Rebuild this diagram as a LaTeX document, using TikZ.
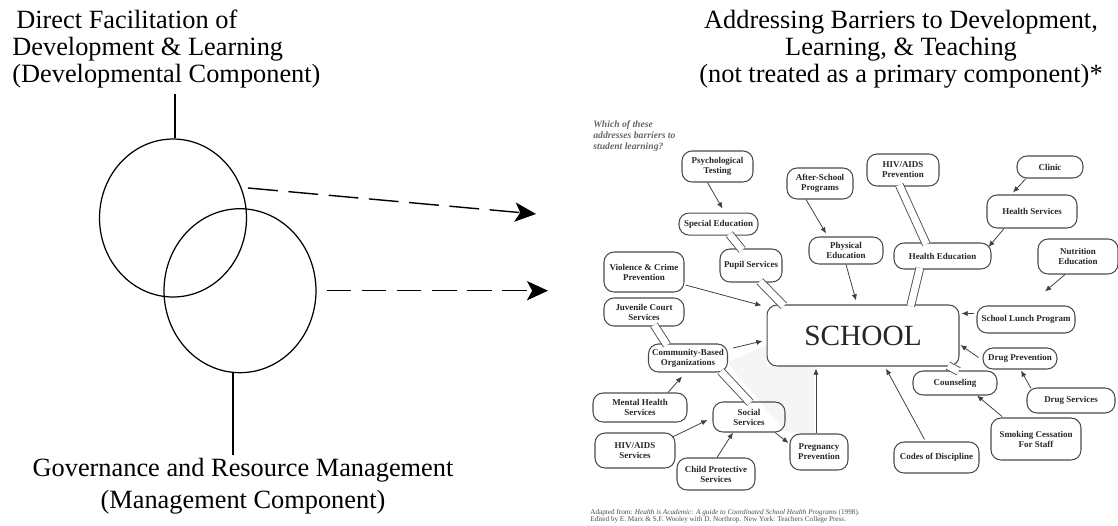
\documentclass[tikz,border=0pt]{standalone}
\usepackage{fontspec}
\setmainfont{Liberation Serif}
\usetikzlibrary{arrows.meta, shapes.geometric, positioning, calc}

\begin{document}
\begin{tikzpicture}[
    x=0.02cm, y=-0.02cm, % one unit = one pixel of the sketch, y going down
    % Styles
    heading/.style={inner sep=0pt, font=\fontsize{15}{15.5}\selectfont},
    ring/.style={ellipse, draw, line width=0.7pt, minimum width=2.94cm, minimum height=3.16cm, inner sep=0pt},
    leader/.style={line width=0.7pt},
    flow/.style={-{Stealth[length=12pt, width=11pt, inset=3pt]}, line width=0.8pt, dash pattern=on 14pt off 6pt},
    topic/.style={rectangle, draw=black!70, line width=0.6pt, rounded corners=0.2cm, inner sep=0pt, align=center, text=black!85, font=\fontsize{5.1}{5.7}\selectfont\bfseries},
    feed/.style={-{Latex[length=3.5pt, width=3pt]}, draw=black!75, line width=0.45pt},
    channel/.style={draw=black!70, line width=0.5pt, double=white, double distance=0.14cm, shorten <=-1pt, shorten >=-1pt}
]
\useasboundingbox (0,0) rectangle (1118,525);

% --- Left: the two components ---
\node[heading, anchor=north west, align=left] (devtitle) at (12,9.5) {\hspace*{0.08cm}Direct Facilitation of\\Development \& Learning\\(Developmental Component)};
\node[heading, anchor=north, align=center, font=\fontsize{15}{18}\selectfont] (mgmttitle) at (243,458) {Governance and Resource Management\\(Management Component)};

\node[ring] (ring1) at (173,218) {};
\node[ring, minimum width=3.04cm, minimum height=3.28cm] (ring2) at (240,290.7) {};

\coordinate (devtop) at (175,94);
\coordinate (mgmtbot) at (233,455);
\draw[leader] (devtop) -- (devtop |- ring1.north);
\draw[leader] (ring2.south -| mgmtbot) -- (mgmtbot);

% --- Dashed arrows over to the scanned map ---
\coordinate (tip1) at (536,214);
\coordinate (tip2) at (548,290.7);
\draw[flow, dash pattern=on 17pt off 6pt] ([shift={(1,-30)}]ring1.east) -- (tip1);
\draw[flow] ([shift={(10,0)}]ring2.east) -- (tip2);

% --- Right: title ---
\node[heading, anchor=north, align=center] (bartitle) at (901,9.5) {Addressing Barriers to Development,\\Learning, \& Teaching\\(not treated as a primary component)*};

\node[anchor=north west, inner sep=0pt, align=left, text=black!60, font=\fontsize{5.5}{6.4}\selectfont\bfseries\itshape] (question) at (593,120) {Which of these\\addresses barriers to\\student learning?};

% faint shading behind the lower left links
\fill[black!4] (728,362) -- (767,345) -- (767,366) -- (814,366) -- (814,434) -- (786,432) -- (760,402) -- (735,372) -- cycle;

% --- The SCHOOL map ---
\node[topic, minimum width=3.84cm, minimum height=1.22cm, font=\fontsize{16.7}{18}\selectfont] (school) at (863,335.5) {SCHOOL};

\node[topic, minimum width=1.42cm, minimum height=0.62cm] (psych) at (717.5,166.5) {Psychological\\Testing};
\node[topic, minimum width=1.58cm, minimum height=0.44cm, below=0.6cm of psych, xshift=0.02cm] (special) {Special Education};
\node[topic, minimum width=1.24cm, minimum height=0.66cm] (pupil) at (751,265.5) {Pupil Services};
\node[topic, minimum width=1.6cm, minimum height=0.8cm] (violence) at (644,272) {Violence \& Crime\\Prevention};
\node[topic, minimum width=1.6cm, minimum height=0.56cm] (juvenile) at (644,312) {Juvenile Court\\Services};
\node[topic, minimum width=1.58cm, minimum height=0.56cm] (community) at (688,358) {Community-Based\\Organizations};
\node[topic, minimum width=1.88cm, minimum height=0.58cm] (mental) at (640,407.5) {Mental Health\\Services};
\node[topic, minimum width=1.44cm, minimum height=0.6cm] (social) at (749,417) {Social\\Services};
\node[topic, minimum width=1.6cm, minimum height=0.7cm] (hivsrv) at (635,450.5) {HIV/AIDS\\Services};
\node[topic, minimum width=1.56cm, minimum height=0.64cm] (child) at (716,474) {Child Protective\\Services};
\node[topic, minimum width=1.16cm, minimum height=0.72cm] (pregnancy) at (819,452) {Pregnancy\\Prevention};

\node[topic, minimum width=1.32cm, minimum height=0.62cm] (after) at (820,183.5) {After-School\\Programs};
\node[topic, minimum width=1.48cm, minimum height=0.54cm] (physical) at (846,250.5) {Physical\\Education};
\node[topic, minimum width=1.44cm, minimum height=0.64cm] (hivprev) at (903,170) {HIV/AIDS\\Prevention};
\node[topic, minimum width=1.94cm, minimum height=0.52cm] (healthedu) at (942.5,256) {Health Education};
\node[topic, minimum width=1.32cm, minimum height=0.44cm] (clinic) at (1050,167) {Clinic};
\node[topic, minimum width=1.8cm, minimum height=0.66cm] (healthsrv) at (1032,211.5) {Health Services};
\node[topic, minimum width=1.6cm, minimum height=0.7cm] (nutrition) at (1078,256.5) {Nutrition\\Education};

\node[topic, minimum width=1.96cm, minimum height=0.54cm] (lunch) at (1026,319.5) {School Lunch Program};
\node[topic, minimum width=1.48cm, minimum height=0.42cm] (drugprev) at (1020,358.5) {Drug Prevention};
\node[topic, minimum width=1.68cm, minimum height=0.48cm] (counseling) at (955,383) {Counseling};
\node[topic, minimum width=1.76cm, minimum height=0.5cm] (drugsrv) at (1071,400.5) {Drug Services};
\node[topic, minimum width=1.8cm, minimum height=0.84cm] (smoking) at (1036,439) {Smoking Cessation\\For Staff};
\node[topic, minimum width=1.7cm, minimum height=0.62cm] (codes) at (936.5,457.5) {Codes of Discipline};

% --- Arrows into the map ---
\draw[feed] ([shift={(-10,0)}]psych.south) -- ([shift={(4,-4)}]special.north);
\draw[feed] ([shift={(-14,0)}]after.south) -- ([shift={(-20,-3)}]physical.north);
\draw[feed] (physical.south) -- ([shift={(-7,-4)}]school.north);
\draw[feed] ([shift={(-24,0)}]clinic.south) -- ([shift={(-19,-2)}]healthsrv.north);
\draw[feed] ([shift={(-28,0)}]healthsrv.south) -- ([shift={(-3,-9)}]healthedu.east);
\draw[feed] ([shift={(-13,0)}]nutrition.south) -- ([shift={(19,-14)}]lunch.north);
\draw[feed] ([shift={(-2,-6)}]lunch.west) -- ([shift={(2,-22)}]school.east);
\draw[feed] ([shift={(-4,-1)}]drugprev.west) -- ([shift={(1,9.5)}]school.east);
\draw[feed] ([shift={(-40,1)}]drugsrv.north) -- ([shift={(1,1)}]drugprev.south);
\draw[feed] ([shift={(-34,-1)}]smoking.north) -- ([shift={(22,0)}]counseling.south);
\draw[feed] ([shift={(-12,-2)}]codes.north) -- ([shift={(23,2)}]school.south);
\draw[feed] ([shift={(-3,0)}]pregnancy.north) -- ([shift={(-47,2)}]school.south);
\draw[feed] ([shift={(26,0)}]social.south) -- ([shift={(-1,-9)}]pregnancy.west);
\draw[feed] ([shift={(1,0)}]child.north) -- ([shift={(-16,0)}]social.south);
\draw[feed] ([shift={(-3,-13.5)}]hivsrv.east) -- ([shift={(-5,3)}]social.west);
\draw[feed] ([shift={(28,0)}]mental.north) -- ([shift={(-6,4)}]community.south);
\draw[feed] ([shift={(5,-10)}]community.east) -- ([shift={(-4,5.5)}]school.west);
\draw[feed] ([shift={(1,13)}]violence.east) -- ([shift={(-5,1)}]school.north west);

% --- Open channels between joined boxes ---
\draw[channel] ([shift={(12,0)}]special.south) -- ([shift={(-10,0)}]pupil.north);
\draw[channel] ([shift={(10,0)}]pupil.south) -- ([shift={(16,0)}]school.north west);
\draw[channel] ([shift={(11,0)}]juvenile.south) -- ([shift={(-22,0)}]community.north);
\draw[channel] ([shift={(34,0)}]community.south) -- (social.north);
\draw[channel] ([shift={(-3,0)}]hivprev.south) -- ([shift={(-17,0)}]healthedu.north);
\draw[channel] ([shift={(-23,0)}]healthedu.south) -- ([shift={(48,0)}]school.north);
\draw[channel] ([shift={(-10,0)}]school.south east) -- ([shift={(2,0)}]counseling.north);

% --- Source line ---
\node[anchor=north west, inner sep=0pt, align=left, text=black!70, font=\fontsize{4.1}{4.2}\selectfont] (source) at (590,509) {Adapted from: \textit{Health is Academic: A guide to Coordinated School Health Programs} (1998).\\Edited by E. Marx \& S.F. Wooley with D. Northrop. New York: Teachers College Press.};

\end{tikzpicture}
\end{document}
